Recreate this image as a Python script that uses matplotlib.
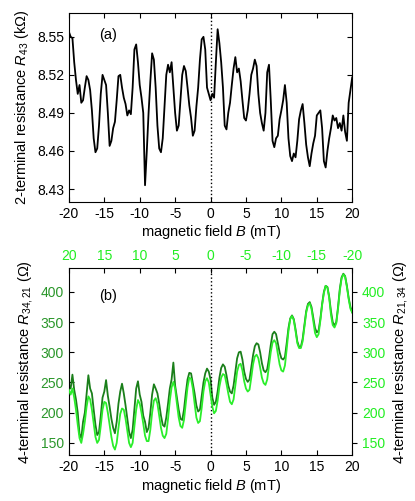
import numpy as np
import matplotlib
matplotlib.use("Agg")
import matplotlib.pyplot as plt

plt.rcParams['font.family'] = ['Liberation Sans', 'DejaVu Sans']
plt.rcParams['mathtext.fontset'] = 'custom'
plt.rcParams['mathtext.rm'] = 'Liberation Sans'
plt.rcParams['mathtext.it'] = 'Liberation Sans:italic'
plt.rcParams['axes.unicode_minus'] = False

# ---- data ----
field_B = np.linspace(-20, 20, 161)          # bottom axis field (mT)
field_top = np.linspace(20, -20, 161)         # top (reversed) axis field (mT)

R43 = [8.554, 8.550, 8.549, 8.530, 8.516, 8.505, 8.512, 8.498, 8.500, 8.510,
       8.519, 8.516, 8.508, 8.492, 8.470, 8.459, 8.462, 8.480, 8.505, 8.520,
       8.516, 8.512, 8.490, 8.464, 8.468, 8.478, 8.483, 8.500, 8.519, 8.520,
       8.510, 8.502, 8.497, 8.488, 8.492, 8.489, 8.510, 8.540, 8.544, 8.530,
       8.512, 8.502, 8.490, 8.433, 8.460, 8.490, 8.515, 8.537, 8.532, 8.510,
       8.480, 8.462, 8.459, 8.470, 8.495, 8.520, 8.528, 8.522, 8.530, 8.510,
       8.490, 8.476, 8.480, 8.500, 8.520, 8.527, 8.523, 8.510, 8.496, 8.486,
       8.472, 8.476, 8.495, 8.510, 8.532, 8.548, 8.550, 8.540, 8.510, 8.505,
       8.500, 8.505, 8.502, 8.530, 8.556, 8.545, 8.530, 8.510, 8.480, 8.477,
       8.490, 8.498, 8.512, 8.525, 8.534, 8.522, 8.525, 8.515, 8.500, 8.486,
       8.484, 8.492, 8.505, 8.520, 8.525, 8.532, 8.527, 8.505, 8.490, 8.482,
       8.476, 8.490, 8.522, 8.528, 8.500, 8.468, 8.463, 8.470, 8.472, 8.485,
       8.492, 8.500, 8.512, 8.498, 8.470, 8.456, 8.452, 8.458, 8.455, 8.468,
       8.485, 8.492, 8.497, 8.482, 8.465, 8.455, 8.448, 8.458, 8.466, 8.472,
       8.488, 8.490, 8.492, 8.478, 8.452, 8.447, 8.460, 8.470, 8.478, 8.488,
       8.484, 8.486, 8.478, 8.482, 8.476, 8.488, 8.475, 8.468, 8.498, 8.508,
       8.518]

R34_21 = [246, 240, 263, 238, 222, 200, 165, 158, 185, 200,
          232, 262, 240, 232, 205, 180, 163, 168, 195, 225,
          235, 254, 228, 210, 190, 175, 166, 185, 215, 235,
          248, 232, 212, 190, 168, 158, 172, 205, 240, 252,
          230, 218, 195, 185, 168, 175, 200, 230, 247, 240,
          232, 215, 195, 180, 177, 192, 215, 240, 255, 283,
          245, 225, 205, 190, 188, 205, 232, 255, 266, 265,
          248, 232, 212, 202, 205, 228, 250, 265, 273, 268,
          255, 225, 213, 218, 235, 258, 274, 280, 276, 262,
          245, 235, 232, 245, 268, 290, 300, 301, 288, 268,
          256, 251, 255, 275, 295, 310, 315, 313, 300, 282,
          270, 267, 272, 290, 312, 330, 334, 330, 315, 300,
          290, 288, 292, 315, 340, 356, 361, 355, 338, 318,
          309, 309, 322, 345, 368, 380, 383, 375, 358, 340,
          333, 336, 355, 380, 400, 410, 408, 392, 368, 350,
          344, 350, 375, 405, 424, 430, 426, 410, 390, 375,
          366]

R21_34 = [238, 230, 240, 225, 205, 180, 158, 150, 165, 185,
          210, 227, 222, 205, 182, 160, 150, 155, 178, 205,
          218, 216, 200, 180, 160, 145, 139, 150, 175, 198,
          207, 205, 190, 170, 150, 143, 150, 178, 205, 221,
          215, 200, 182, 162, 153, 153, 172, 200, 220, 224,
          215, 195, 175, 162, 158, 165, 190, 220, 242, 251,
          240, 215, 192, 178, 175, 188, 215, 242, 258, 256,
          240, 215, 192, 183, 186, 208, 235, 252, 257, 250,
          230, 210, 199, 203, 220, 243, 258, 264, 262, 248,
          232, 218, 214, 222, 245, 268, 279, 281, 270, 252,
          240, 235, 238, 258, 280, 293, 296, 290, 275, 258,
          249, 246, 255, 278, 300, 316, 320, 315, 298, 280,
          270, 268, 278, 305, 335, 355, 360, 353, 335, 315,
          307, 307, 318, 342, 365, 378, 381, 372, 352, 332,
          325, 330, 352, 378, 398, 410, 407, 390, 362, 345,
          341, 348, 372, 402, 422, 429, 425, 408, 388, 372,
          366]

xticks = [-20, -15, -10, -5, 0, 5, 10, 15, 20]
top_xticks = [20, 15, 10, 5, 0, -5, -10, -15, -20]
yticks_a = [8.43, 8.46, 8.49, 8.52, 8.55]
yticks_b = [150, 200, 250, 300, 350, 400]

dark = '#1a7f1a'
light = '#2aee2a'
left_lbl = '#2a962a'
right_lbl = '#22ee22'
fs = 10
lfs = 10.5

fig = plt.figure(figsize=(4.15, 5.01), dpi=100)

# ---- panel (a) ----
axa = fig.add_axes([0.166, 0.5974, 0.6827, 0.3772])
axa.plot(field_B, R43, color='black', lw=1.3)
axa.axvline(0, color='black', ls=':', lw=1.0)
axa.set_xlim(-20, 20)
axa.set_ylim(8.42, 8.569)
axa.set_xticks(xticks)
axa.set_yticks(yticks_a)
axa.set_yticklabels(['%.2f' % v for v in yticks_a])
axa.tick_params(direction='in', top=True, right=True, labelsize=fs, length=3.5, width=0.8)
axa.set_xlabel('magnetic field $\\it{B}$ (mT)', fontsize=lfs, labelpad=2)
axa.set_ylabel('2-terminal resistance $\\it{R}_{43}$ (k\u03a9)', fontsize=lfs, labelpad=4)
axa.text(0.105, 0.86, '(a)', transform=axa.transAxes, fontsize=lfs)

# ---- panel (b) ----
rect_b = [0.166, 0.0918, 0.6827, 0.3727]
axb = fig.add_axes(rect_b)
axb.plot(field_B, R34_21, color=dark, lw=1.3)
axb.axvline(0, color='black', ls=':', lw=1.0)
axb.set_xlim(-20, 20)
axb.set_ylim(130, 439)
axb.set_xticks(xticks)
axb.set_yticks(yticks_b)
axb.tick_params(direction='in', labelsize=fs, length=3.5, width=0.8)
axb.tick_params(axis='y', labelcolor=left_lbl)
axb.set_xlabel('magnetic field $\\it{B}$ (mT)', fontsize=lfs, labelpad=2)
axb.set_ylabel('4-terminal resistance $\\it{R}_{34,21}$ (\u03a9)', fontsize=lfs, labelpad=4)
axb.text(0.105, 0.83, '(b)', transform=axb.transAxes, fontsize=lfs)

axt = fig.add_axes(rect_b, frameon=False)
axt.plot(field_top, R21_34, color=light, lw=1.3)
axt.set_xlim(20, -20)
axt.set_ylim(130, 439)
axt.xaxis.tick_top()
axt.yaxis.tick_right()
axt.yaxis.set_label_position('right')
axt.set_xticks(top_xticks)
axt.set_yticks(yticks_b)
axt.tick_params(axis='x', direction='in', labelsize=fs, length=3.5, width=0.8, labelcolor=right_lbl)
axt.tick_params(axis='y', direction='out', labelsize=fs, length=3.5, width=0.8, labelcolor=right_lbl)
axt.set_ylabel('4-terminal resistance $\\it{R}_{21,34}$ (\u03a9)', fontsize=lfs, labelpad=4,
               rotation=90)

fig.savefig('out.png', dpi=100)
